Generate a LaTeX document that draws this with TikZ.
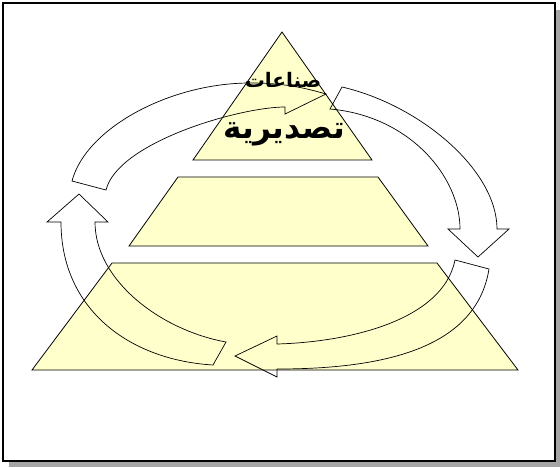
\documentclass[tikz,border=0pt]{standalone}
\usepackage{fontspec}
\newfontfamily\arabicfont[Script=Arabic]{DejaVu Sans}
\TeXXeTstate=1
\usetikzlibrary{positioning}
\definecolor{tierbg}{RGB}{255,255,204}
\definecolor{shadowclr}{RGB}{165,165,165}

\begin{document}
\begin{tikzpicture}[
    x=1pt, y=-1pt,
    % --- shape styles ---
    frame/.style     ={draw, line width=2.4pt, fill=white},
    tier/.style      ={draw, fill=tierbg, line width=0.8pt, line join=miter},
    cyclearrow/.style={draw, line width=0.7pt, line join=miter},
    % --- text styles ---
    artext/.style    ={inner sep=0pt},
]
\useasboundingbox (0,0) rectangle (560,467);

% =============== slide frame ===============
\fill[shadowclr] (9,10) rectangle (560,467);
\path[frame] (3,3) rectangle (555,461);

% =============== pyramid tiers ===============
\path[tier] (282,32) -- (372,160) -- (193,160) -- cycle;
\path[tier] (178,177) -- (378,177) -- (428,246) -- (129,246) -- cycle;
\path[tier] (112,263) -- (437,263) -- (518,370) -- (32,370) -- cycle;

% =============== cycle arrows ===============
% top: left tail -> head at apex
\path[cyclearrow] (72,181) .. controls (86,128) and (170,83) .. (250,83)
    .. controls (285,83) and (305,88) .. (326,94) -- (285,114) -- (285,107)
    .. controls (240,107) and (118,142) .. (106,190) -- cycle;
% right: tail at apex -> head pointing down
\path[cyclearrow] (342,87) .. controls (420,105) and (497,170) .. (497,229)
    -- (509,229) -- (478,257) -- (448,229) -- (460,229)
    .. controls (460,177) and (410,116) .. (330,109) -- cycle;
% bottom: right tail -> head pointing left
\path[cyclearrow] (489,269) .. controls (476,350) and (380,369) .. (277,369)
    -- (277,377) -- (235,356) -- (277,336) -- (277,344)
    .. controls (350,342) and (443,320) .. (455,260) -- cycle;
% left: bottom tail -> head pointing up
\path[cyclearrow] (213,365) .. controls (130,360) and (61,310) .. (61,222)
    -- (47,222) -- (79,194) -- (108,222) -- (95,222)
    .. controls (95,280) and (160,330) .. (226,342) -- cycle;

% =============== apex text ===============
\node[artext, font=\arabicfont\bfseries\fontsize{20}{24}\selectfont] (sinaat) at (283,80) {\beginR صناعات\endR};
\node[artext, font=\arabicfont\bfseries\fontsize{31}{36}\selectfont] (tasdir) at (284,134) {\beginR تصديرية\endR};

\end{tikzpicture}
\end{document}
